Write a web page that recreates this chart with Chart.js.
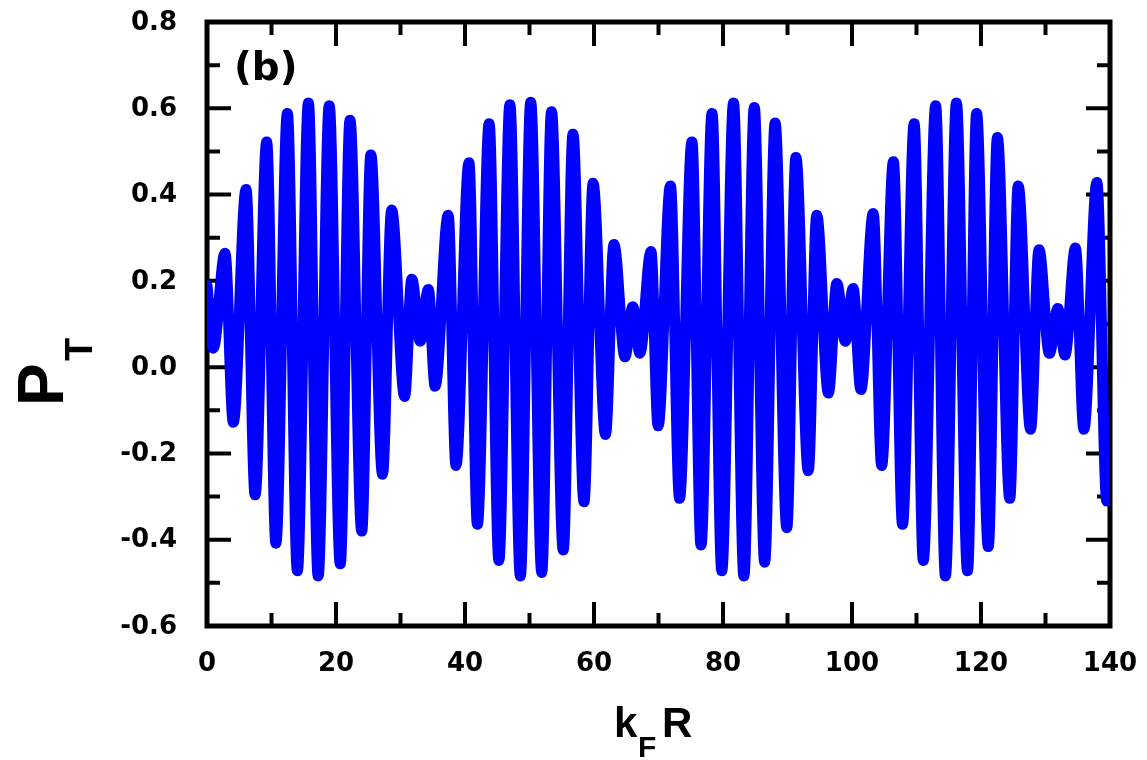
<!DOCTYPE html>
<html lang="en">
<head>
  <meta charset="UTF-8" />
  <title>P_T vs kFR</title>
  <script src="https://cdn.jsdelivr.net/npm/chart.js"></script>
  <style>
    body { margin: 0; background: #fff; }
  </style>
</head>
<body>
  <canvas id="ptChart" width="1147" height="760"></canvas>

  <script>
    // extrema of the curve (kF*R, P_T)
    const kR = [
      0, 0.98, 2.79, 4.08, 6.05, 7.46, 9.25, 10.68, 12.46, 14.01,
      15.72, 17.23, 18.95, 20.66, 22.17, 23.99, 25.40, 27.21, 28.62, 30.64,
      31.75, 33.06, 34.31, 35.37, 37.39, 38.60, 40.61, 41.92, 43.74, 45.25,
      46.96, 48.58, 50.19, 51.90, 53.41, 55.23, 56.74, 58.45, 59.86, 61.78,
      63.09, 64.80, 66.01, 67.12, 68.83, 69.94, 71.85, 73.26, 75.18, 76.59,
      78.30, 79.81, 81.63, 83.24, 84.85, 86.46, 88.08, 89.89, 91.30, 93.22,
      94.53, 96.34, 97.65, 98.96, 100.17, 101.38, 103.29, 104.60, 106.42, 107.83,
      109.64, 111.05, 112.97, 114.48, 116.19, 117.91, 119.32, 121.13, 122.54, 124.46,
      125.77, 127.68, 128.99, 130.60, 131.91, 133.02, 134.64, 135.95, 137.96, 139.5,
      140
    ];
    const pT = [
      0.19, 0.044, 0.264, -0.128, 0.412, -0.296, 0.522, -0.408, 0.588, -0.472,
      0.612, -0.484, 0.606, -0.456, 0.572, -0.38, 0.492, -0.248, 0.364, -0.068,
      0.204, 0.06, 0.18, -0.044, 0.352, -0.228, 0.474, -0.364, 0.564, -0.448,
      0.608, -0.484, 0.614, -0.476, 0.592, -0.424, 0.54, -0.312, 0.426, -0.156,
      0.284, 0.024, 0.14, 0.032, 0.268, -0.136, 0.42, -0.304, 0.522, -0.412,
      0.588, -0.472, 0.612, -0.484, 0.602, -0.452, 0.566, -0.372, 0.486, -0.24,
      0.352, -0.06, 0.194, 0.06, 0.182, -0.052, 0.356, -0.228, 0.476, -0.364,
      0.564, -0.448, 0.606, -0.484, 0.612, -0.472, 0.588, -0.416, 0.532, -0.304,
      0.42, -0.144, 0.272, 0.032, 0.136, 0.028, 0.276, -0.144, 0.428, -0.31,
      -0.29
    ];

    const xTicks = [0, 20, 40, 60, 80, 100, 120, 140];
    const yTicks = [-0.6, -0.4, -0.2, 0.0, 0.2, 0.4, 0.6, 0.8];

    const points = kR.map((x, i) => ({ x: x, y: pT[i] }));

    const tickFont = 'bold 26px "DejaVu Sans", sans-serif';

    // box frame with inward ticks on all four sides
    const framePlugin = {
      id: 'frame',
      beforeDatasetsDraw(chart) {
        const { ctx, chartArea: a, scales: { x, y } } = chart;
        ctx.save();
        ctx.strokeStyle = '#000';
        ctx.lineWidth = 4;
        ctx.beginPath();
        for (let v = 0; v <= 140; v += 10) {
          const px = x.getPixelForValue(v);
          const len = v % 20 === 0 ? 24 : 13;
          ctx.moveTo(px, a.bottom); ctx.lineTo(px, a.bottom - len);
          ctx.moveTo(px, a.top); ctx.lineTo(px, a.top + len);
        }
        for (let i = -6; i <= 8; i++) {
          const py = y.getPixelForValue(i / 10);
          const len = i % 2 === 0 ? 24 : 13;
          ctx.moveTo(a.left, py); ctx.lineTo(a.left + len, py);
          ctx.moveTo(a.right, py); ctx.lineTo(a.right - len, py);
        }
        ctx.stroke();
        ctx.lineWidth = 5;
        ctx.strokeRect(a.left, a.top, a.right - a.left, a.bottom - a.top);
        ctx.restore();
      },
      afterDraw(chart) {
        const { ctx, chartArea: a, scales: { x, y } } = chart;
        ctx.save();
        ctx.fillStyle = '#000';

        // tick labels
        ctx.font = tickFont;
        ctx.textBaseline = 'middle';
        ctx.textAlign = 'center';
        xTicks.forEach(v => ctx.fillText(String(v), x.getPixelForValue(v), a.bottom + 38));
        ctx.textAlign = 'right';
        yTicks.forEach(v => ctx.fillText(v.toFixed(1), a.left - 30, y.getPixelForValue(v) + 1));

        ctx.textAlign = 'left';
        ctx.textBaseline = 'alphabetic';

        // x title: k_F R
        ctx.font = 'bold 42px "Liberation Sans", Arial, sans-serif';
        ctx.fillText('k', 614, 737);
        ctx.font = 'bold 30px "Liberation Sans", Arial, sans-serif';
        ctx.fillText('F', 638, 757);
        ctx.font = 'bold 42px "Liberation Sans", Arial, sans-serif';
        ctx.fillText('R', 662, 737);

        // panel tag
        ctx.font = 'bold 39px "DejaVu Sans", sans-serif';
        ctx.fillText('(b)', 234, 80);

        // y title: P_T, rotated
        ctx.translate(63, 406);
        ctx.rotate(-Math.PI / 2);
        ctx.font = 'bold 64px "Liberation Sans", Arial, sans-serif';
        ctx.fillText('P', 0, 0);
        ctx.font = 'bold 38px "Liberation Sans", Arial, sans-serif';
        ctx.fillText('T', 45, 29);
        ctx.restore();
      }
    };

    const ctx = document.getElementById('ptChart').getContext('2d');
    new Chart(ctx, {
      type: 'line',
      data: {
        datasets: [{
          label: 'P_T',
          data: points,
          borderColor: '#0000ff',
          borderWidth: 11,
          pointRadius: 0,
          fill: false,
          cubicInterpolationMode: 'monotone',
          borderJoinStyle: 'round',
          borderCapStyle: 'round'
        }]
      },
      options: {
        responsive: false,
        animation: false,
        devicePixelRatio: 1,
        layout: { padding: { top: 22, right: 37, left: 207, bottom: 134 } },
        plugins: { legend: { display: false }, tooltip: { enabled: false } },
        scales: {
          x: { type: 'linear', min: 0, max: 140, display: false },
          y: { type: 'linear', min: -0.6, max: 0.8, display: false }
        }
      },
      plugins: [framePlugin]
    });
  </script>
</body>
</html>
